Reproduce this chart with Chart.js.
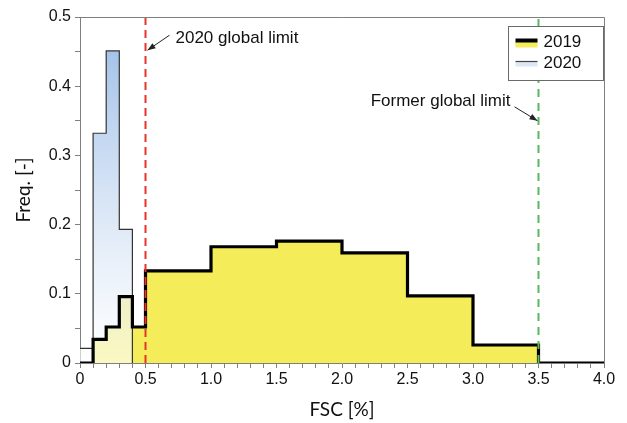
<!DOCTYPE html>
<html>
<head>
<meta charset="utf-8">
<script src="https://cdn.jsdelivr.net/npm/chart.js@4.4.1/dist/chart.umd.min.js"></script>
<style>
  html, body { margin: 0; padding: 0; background: #ffffff; }
  canvas { display: block; }
</style>
</head>
<body>
<canvas id="c" width="627" height="423"></canvas>
<script>
// ---- Data ----
const edges2019 = [0, 0.1, 0.2, 0.3, 0.4, 0.5, 1.0, 1.5, 2.0, 2.5, 3.0, 3.5, 4.0];
const freq2019  = [0, 0.034, 0.052, 0.096, 0.052, 0.133, 0.168, 0.176, 0.159, 0.097, 0.026, 0];
const edges2020 = [0, 0.1, 0.2, 0.3, 0.4];
const freq2020  = [0.021, 0.332, 0.451, 0.193];
const limit2020 = 0.5;
const limitFormer = 3.5;
const xTickLabels = ['0', '0.5', '1.0', '1.5', '2.0', '2.5', '3.0', '3.5', '4.0'];
const yTickLabels = ['0', '0.1', '0.2', '0.3', '0.4', '0.5'];
const seriesNames = ['2019', '2020'];
const annotationTexts = ['2020 global limit', 'Former global limit'];

// step points: bin value at its left edge; previous value is held until the next point (stepped 'before')
function stepPoints(edges, vals) {
  const pts = vals.map((v, i) => ({ x: edges[i], y: v }));
  pts.push({ x: edges[edges.length - 1], y: 0 });
  return pts;
}
function vline(xv) { return [{ x: xv, y: 0 }, { x: xv, y: 0.5 }]; }

const YELLOW = '#f5ec5a';
const AXIS = '#7f7f7f';
const TICKFONT = { family: '"Liberation Sans", Arial, sans-serif', size: 16 };
const TITLEFONT = { family: 'Lato, "Noto Sans", sans-serif', size: 19 };

function blueGradient(ctx, top, bottom) {
  const g = ctx.createLinearGradient(0, top, 0, bottom);
  g.addColorStop(0, 'rgba(160,192,232,0.95)');
  g.addColorStop(1, 'rgba(255,255,255,0.62)');
  return g;
}

const overlay = {
  id: 'overlay',
  afterDraw(chart) {
    const { ctx, chartArea: a, scales: { x, y } } = chart;
    ctx.save();
    // top & right frame
    ctx.strokeStyle = AXIS;
    ctx.lineWidth = 1;
    ctx.beginPath();
    ctx.moveTo(a.left, Math.round(a.top) + 0.5);
    ctx.lineTo(Math.round(a.right) + 0.5, Math.round(a.top) + 0.5);
    ctx.lineTo(Math.round(a.right) + 0.5, a.bottom);
    ctx.stroke();

    // legend box
    const bw = 95, bh = 54;
    const bx = Math.round(a.right) - bw - 1 + 0.5, by = Math.round(a.top) + 9 + 0.5;
    ctx.fillStyle = '#ffffff';
    ctx.fillRect(bx, by, bw, bh);
    ctx.strokeStyle = '#6a6a6a';
    ctx.strokeRect(bx, by, bw, bh);
    // 2019 symbol
    const sx = bx + 7, sw = 22;
    ctx.fillStyle = YELLOW;
    ctx.fillRect(sx, by + 15, sw, 6);
    ctx.strokeStyle = '#000';
    ctx.lineWidth = 4;
    ctx.beginPath(); ctx.moveTo(sx, by + 14); ctx.lineTo(sx + sw, by + 14); ctx.stroke();
    // 2020 symbol
    ctx.fillStyle = '#dce8f5';
    ctx.fillRect(sx, by + 35, sw, 5);
    ctx.strokeStyle = '#444';
    ctx.lineWidth = 1.2;
    ctx.beginPath(); ctx.moveTo(sx, by + 35); ctx.lineTo(sx + sw, by + 35); ctx.stroke();
    ctx.fillStyle = '#111';
    ctx.font = '17px "Liberation Sans", Arial, sans-serif';
    ctx.textBaseline = 'middle';
    ctx.textAlign = 'left';
    ctx.fillText(seriesNames[0], bx + 35, by + 16);
    ctx.fillText(seriesNames[1], bx + 35, by + 37);

    // annotations
    function arrow(x1, y1, x2, y2) {
      ctx.strokeStyle = '#222';
      ctx.fillStyle = '#222';
      ctx.lineWidth = 1;
      ctx.beginPath(); ctx.moveTo(x1, y1); ctx.lineTo(x2, y2); ctx.stroke();
      const ang = Math.atan2(y2 - y1, x2 - x1);
      const L = 8, W = 3;
      ctx.beginPath();
      ctx.moveTo(x2, y2);
      ctx.lineTo(x2 - L * Math.cos(ang) + W * Math.sin(ang), y2 - L * Math.sin(ang) - W * Math.cos(ang));
      ctx.lineTo(x2 - L * Math.cos(ang) - W * Math.sin(ang), y2 - L * Math.sin(ang) + W * Math.cos(ang));
      ctx.closePath();
      ctx.fill();
    }
    const px1 = x.getPixelForValue(limit2020), py1 = y.getPixelForValue(0.452);
    arrow(px1 + 24, py1 - 15, px1 + 2, py1);
    ctx.fillStyle = '#111';
    ctx.font = '17px "Liberation Sans", Arial, sans-serif';
    ctx.textAlign = 'left';
    ctx.fillText(annotationTexts[0], px1 + 30, py1 - 12);

    const px2 = x.getPixelForValue(limitFormer), py2 = y.getPixelForValue(0.35);
    arrow(px2 - 24, py2 - 14, px2 - 1, py2);
    ctx.fillStyle = '#111';
    ctx.textAlign = 'right';
    ctx.fillText(annotationTexts[1], px2 - 28, py2 - 19);
    ctx.restore();
  }
};

new Chart(document.getElementById('c'), {
  type: 'line',
  data: {
    datasets: [
      { label: 'limit2020', data: vline(limit2020), borderColor: '#e8352b', borderWidth: 2,
        borderDash: [8, 5], pointRadius: 0, fill: false },
      { label: 'limitFormer', data: vline(limitFormer), borderColor: '#5cb85a', borderWidth: 2,
        borderDash: [8, 6], pointRadius: 0, fill: false },
      { label: seriesNames[0], data: stepPoints(edges2019, freq2019), stepped: 'before',
        borderColor: '#000', borderWidth: 3.2, pointRadius: 0, fill: false },
      { label: seriesNames[1], data: stepPoints(edges2020, freq2020), stepped: 'before',
        borderColor: '#333', borderWidth: 1.2, pointRadius: 0, fill: 'origin',
        backgroundColor: (c) => {
          const ch = c.chart;
          if (!ch.chartArea) return 'rgba(0,0,0,0)';
          return blueGradient(ch.ctx, ch.scales.y.getPixelForValue(Math.max(...freq2020)), ch.scales.y.getPixelForValue(0));
        } },
      { label: seriesNames[0] + ' fill', data: stepPoints(edges2019, freq2019), stepped: 'before',
        borderWidth: 0, borderColor: 'rgba(0,0,0,0)', pointRadius: 0, fill: 'origin', backgroundColor: YELLOW }
    ]
  },
  options: {
    responsive: false,
    devicePixelRatio: 1,
    animation: false,
    layout: { padding: { top: 17, right: 23, left: 0, bottom: 0 } },
    plugins: { legend: { display: false }, tooltip: { enabled: false } },
    scales: {
      x: {
        type: 'linear', min: 0, max: 4,
        afterFit: (s) => { s.height = 60; },
        ticks: {
          stepSize: 0.1, autoSkip: false, maxRotation: 0, padding: 2,
          color: '#111', font: TICKFONT,
          callback: (v) => { const r = Math.round(v * 10); return r % 5 === 0 ? xTickLabels[r / 5] : ''; }
        },
        grid: { drawOnChartArea: false, drawTicks: true, tickLength: 5, color: AXIS },
        border: { display: true, color: AXIS, width: 1 },
        title: { display: true, text: 'FSC [%]', color: '#111', font: TITLEFONT, padding: { top: 0, bottom: 2 } }
      },
      y: {
        type: 'linear', min: 0, max: 0.5,
        afterFit: (s) => { s.width = 80; },
        ticks: {
          stepSize: 0.05, autoSkip: false, padding: 4,
          color: '#111', font: TICKFONT,
          callback: (v) => { const r = Math.round(v * 100); return r % 10 === 0 ? yTickLabels[r / 10] : ''; }
        },
        grid: { drawOnChartArea: false, drawTicks: true, tickLength: 5, color: AXIS },
        border: { display: true, color: AXIS, width: 1 },
        title: { display: true, text: 'Freq. [-]', color: '#111', font: TITLEFONT, padding: { top: 12, bottom: 0 } }
      }
    }
  },
  plugins: [overlay]
});
</script>
</body>
</html>
